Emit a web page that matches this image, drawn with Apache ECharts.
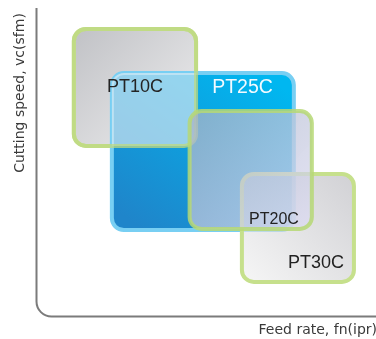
<!DOCTYPE html>
<html>
<head>
<meta charset="utf-8">
<script src="https://cdn.jsdelivr.net/npm/echarts@6/dist/echarts.min.js"></script>
<style>
html,body{margin:0;padding:0;background:#fff;}
#main{width:376px;height:339px;}
</style>
</head>
<body>
<div id="main"></div>
<script>
// grade areas, in feed (x) / speed (y) units 0..100
var grades = ['PT10C', 'PT25C', 'PT20C', 'PT30C'];
var feedFrom = [11.0, 22.2, 45.1, 60.5];
var feedTo = [47.0, 75.8, 81.1, 93.5];
var speedFrom = [55.3, 28.0, 28.4, 11.2];
var speedTo = [93.2, 78.9, 66.6, 46.2];

var xTitle = 'Feed rate, fn(ipr)';
var yTitle = 'Cutting speed, vc(sfm)';

function lin(x, y, x2, y2, c1, c2) {
    return {type: 'linear', x: x, y: y, x2: x2, y2: y2, colorStops: [{offset: 0, color: c1}, {offset: 1, color: c2}]};
}

var green = '#c6e08c';
var looks = {
    PT10C: {fill: lin(0, 0, 1, 1, '#c0c1c5', '#efeff0'), stroke: green, text: '#242424', size: 18, at: 'center', dx: 0, dy: 0},
    PT25C: {fill: lin(0.8, 0, 0.2, 1, '#00b7f0', '#1f85ca'), stroke: '#78cff3', text: '#f2faff', size: 19.5, at: 'top', dx: -21, dy: 15},
    PT20C: {fill: lin(0, 0, 1, 1, 'rgba(166,178,196,0.75)', 'rgba(222,220,244,0.72)'), stroke: 'rgba(182,216,116,0.85)', text: '#222', size: 16, at: 'bottom', dx: -13, dy: -9},
    PT30C: {fill: lin(1, 0, 0, 1, 'rgba(184,184,190,0.66)', 'rgba(242,242,242,0.66)'), stroke: green, text: '#222', size: 18, at: 'bottom', dx: -10, dy: -18.5}
};

function box(api, i) {
    var a = api.coord([feedFrom[i], speedTo[i]]);
    var b = api.coord([feedTo[i], speedFrom[i]]);
    return {x: a[0], y: a[1], width: b[0] - a[0], height: b[1] - a[1]};
}

function gradeSeries(i, z) {
    var lk = looks[grades[i]];
    return {
        type: 'custom', z: z, silent: true,
        data: [[feedFrom[i], speedFrom[i], feedTo[i], speedTo[i]]],
        renderItem: function (params, api) {
            var s = box(api, i);
            s.r = 12;
            return {type: 'rect', shape: s, style: {fill: lk.fill, stroke: lk.stroke, lineWidth: 4}};
        }
    };
}

// PT10C seen through PT25C
var overlapSeries = {
    type: 'custom', z: 4, silent: true,
    data: [[0, 0]],
    renderItem: function (params, api) {
        var a = box(api, 0), b = box(api, 1);
        var x1 = Math.max(a.x, b.x), y1 = Math.max(a.y, b.y);
        var x2 = Math.min(a.x + a.width, b.x + b.width), y2 = Math.min(a.y + a.height, b.y + b.height);
        function src(v, va, vb) { return v === va ? 'a' : (v === vb ? 'b' : ''); }
        var L = src(x1, a.x, b.x), T = src(y1, a.y, b.y);
        var R = src(x2, a.x + a.width, b.x + b.width), B = src(y2, a.y + a.height, b.y + b.height);
        var r = [L === T ? 12 : 0, R === T ? 12 : 0, R === B ? 12 : 0, L === B ? 12 : 0];
        a.r = 12;
        return {type: 'group', children: [
            {type: 'rect', shape: {x: x1, y: y1, width: x2 - x1, height: y2 - y1, r: r}, style: {fill: 'rgba(228,236,242,0.64)'}},
            {type: 'rect', shape: a, style: {fill: 'none', stroke: 'rgba(190,218,130,0.75)', lineWidth: 4}}
        ]};
    }
};

var labelSeries = {
    type: 'custom', z: 8, silent: true,
    data: grades.map(function (g, i) { return [feedFrom[i], speedFrom[i], feedTo[i], speedTo[i]]; }),
    renderItem: function (params, api) {
        var i = params.dataIndex;
        var lk = looks[grades[i]];
        var s = box(api, i);
        var x, y, align;
        if (lk.at === 'center') {
            x = s.x + s.width / 2; y = s.y + s.height / 2; align = 'center';
        } else if (lk.at === 'top') {
            x = s.x + s.width + lk.dx; y = s.y + lk.dy; align = 'right';
        } else {
            x = s.x + s.width + lk.dx; y = s.y + s.height + lk.dy; align = 'right';
        }
        return {type: 'text', x: x, y: y, style: {
            text: grades[i], fill: lk.text, fontSize: lk.size, fontFamily: 'Liberation Sans',
            align: align, verticalAlign: 'middle'
        }};
    }
};

// left + bottom axis with a rounded corner
var frameSeries = {
    type: 'custom', z: 9, silent: true,
    data: [[0, 0]],
    renderItem: function (params) {
        var c = params.coordSys;
        var r = 15, k = 0.5523 * r;
        var x0 = c.x, yb = c.y + c.height;
        var d = 'M' + x0 + ' ' + c.y + ' L' + x0 + ' ' + (yb - r) +
            ' C' + x0 + ' ' + (yb - r + k) + ' ' + (x0 + r - k) + ' ' + yb + ' ' + (x0 + r) + ' ' + yb +
            ' L' + (c.x + c.width) + ' ' + yb;
        return {type: 'path', shape: {pathData: d}, style: {fill: 'none', stroke: '#7b7b7b', lineWidth: 2}};
    }
};

var myChart = echarts.init(document.getElementById('main'));

var option = {
    animation: false,
    grid: {left: 36.5, top: 8, right: 0, bottom: 22.5},
    xAxis: {type: 'value', min: 0, max: 100, show: false},
    yAxis: {type: 'value', min: 0, max: 100, show: false},
    graphic: [
        {type: 'text', x: 20.5, y: 93, rotation: Math.PI / 2, style: {
            text: yTitle, fill: '#3a3a3a', fontSize: 14, fontFamily: 'DejaVu Sans', align: 'center', verticalAlign: 'middle'}},
        {type: 'text', x: 377, y: 330, style: {
            text: xTitle, fill: '#3a3a3a', fontSize: 14, fontFamily: 'DejaVu Sans', align: 'right', verticalAlign: 'middle'}}
    ],
    series: [
        gradeSeries(0, 2),
        gradeSeries(1, 3),
        overlapSeries,
        gradeSeries(3, 5),
        gradeSeries(2, 6),
        labelSeries,
        frameSeries
    ]
};

myChart.setOption(option);
</script>
</body>
</html>
